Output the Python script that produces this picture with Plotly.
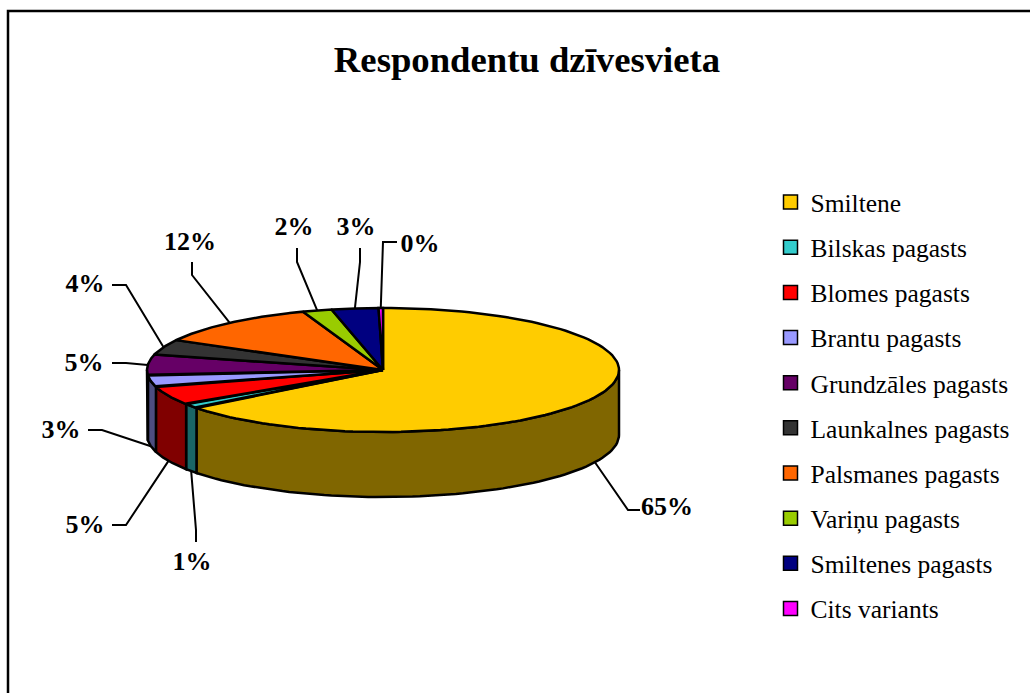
import numpy as np
import plotly.graph_objects as go

TITLE = "Respondentu dzīvesvieta"
categories = ["Smiltene", "Bilskas pagasts", "Blomes pagasts", "Brantu pagasts",
              "Grundzāles pagasts", "Launkalnes pagasts", "Palsmanes pagasts",
              "Variņu pagasts", "Smiltenes pagasts", "Cits variants"]
values = [64.51, 1.2, 4.9, 3.0, 5.4, 4.0, 11.5, 2.0, 3.2, 0.3]
top_colors = ["#FFCC00", "#33CCCC", "#FF0000", "#9999FF", "#660066",
              "#333333", "#FF6600", "#99CC00", "#000080", "#FF00FF"]
side_colors = ["#806600", "#1A6666", "#800000", "#4D4D80", "#330033",
               "#1A1A1A", "#803300", "#4D6600", "#000040", "#800080"]

# Layout constants of the pseudo-3D pie (pixels of the axis range)
CX, CY, RX, RY, DEPTH = 383, 370, 236, 62, 65
# (elbow x, elbow y, end x, end y, label x, label y) per slice
leader_layout = [
    (628, 510, 640, 510, 667, 508),
    (196, 530, 196, 542, 192, 563),
    (126, 525, 112, 525, 85, 526),
    (102, 430, 88, 430, 61, 431),
    (126, 363, 112, 363, 84, 364),
    (126, 285, 112, 285, 85, 285),
    (192, 275, 192, 262, 190, 243),
    (297, 262, 297, 248, 294, 228),
    (360, 262, 360, 248, 356, 228),
    (383, 242, 397, 242, 420, 245),
]

BLACK = "#000000"
FONT = "Liberation Serif"


def ell(theta):
    return CX + RX * np.sin(theta), CY - RY * np.cos(theta)


fractions = np.array(values) / sum(values)
edges = np.concatenate([[0], np.cumsum(fractions)]) * 2 * np.pi

fig = go.Figure()

# Side walls (only the front half of the rim is visible)
for i, cat in enumerate(categories):
    a0, a1 = max(edges[i], np.pi / 2), min(edges[i + 1], 3 * np.pi / 2)
    if a1 <= a0:
        continue
    t = np.linspace(a0, a1, 80)
    x, y = ell(t)
    fig.add_trace(go.Scatter(
        x=np.concatenate([x, x[::-1], x[:1]]),
        y=np.concatenate([y, y[::-1] + DEPTH, y[:1]]),
        mode="lines", fill="toself", fillcolor=side_colors[i],
        line=dict(color=BLACK, width=2.5), hoverinfo="skip", showlegend=False))

# Top faces
for i, cat in enumerate(categories):
    t = np.linspace(edges[i], edges[i + 1], 120)
    x, y = ell(t)
    fig.add_trace(go.Scatter(
        x=np.concatenate([[CX], x, [CX]]),
        y=np.concatenate([[CY], y, [CY]]),
        mode="lines", fill="toself", fillcolor=top_colors[i],
        line=dict(color=BLACK, width=2.5), name=cat, showlegend=False))

# Leader lines
for i, (ex, ey, fx, fy, _, _) in enumerate(leader_layout):
    mid = (edges[i] + edges[i + 1]) / 2
    sx, sy = ell(mid)
    if np.pi / 2 < mid < 3 * np.pi / 2:
        sy = sy + DEPTH
    fig.add_trace(go.Scatter(
        x=[sx, ex, fx], y=[sy, ey, fy], mode="lines",
        line=dict(color=BLACK, width=2), hoverinfo="skip", showlegend=False))

# Percent labels
fig.add_trace(go.Scatter(
    x=[p[4] for p in leader_layout], y=[p[5] for p in leader_layout],
    text=[f"{round(v)}%" for v in values], mode="text",
    textposition="middle center",
    textfont=dict(family=FONT, size=26, color=BLACK, weight="bold"),
    hoverinfo="skip", showlegend=False))

# Legend entries
for i, cat in enumerate(categories):
    fig.add_trace(go.Scatter(
        x=[None], y=[None], mode="markers", name=cat, legendgroup=cat,
        marker=dict(symbol="square", size=14, color=top_colors[i],
                    line=dict(color=BLACK, width=1.5))))

fig.update_layout(
    width=1030, height=693, margin=dict(l=0, r=0, t=0, b=0),
    paper_bgcolor="white", plot_bgcolor="white",
    xaxis=dict(range=[0, 1030], visible=False, fixedrange=True),
    yaxis=dict(range=[693, 0], visible=False, fixedrange=True),
    title=dict(text=f"<b>{TITLE}</b>", x=527 / 1030, xanchor="center",
               y=1 - 59 / 693, yanchor="middle",
               font=dict(family=FONT, size=36.7, color=BLACK)),
    legend=dict(x=770.5 / 1030, xanchor="left", y=1 - 179 / 693, yanchor="top",
                font=dict(family=FONT, size=25.5, color=BLACK),
                tracegroupgap=9, bgcolor="rgba(0,0,0,0)", itemwidth=30),
    shapes=[dict(type="rect", xref="x", yref="y", x0=8, y0=11, x1=1200, y1=900,
                 line=dict(color=BLACK, width=2.5), layer="below")],
)

fig.write_html("out.html", config={"displayModeBar": False},
               post_script="document.body.style.margin='0';document.body.style.overflow='hidden';")
